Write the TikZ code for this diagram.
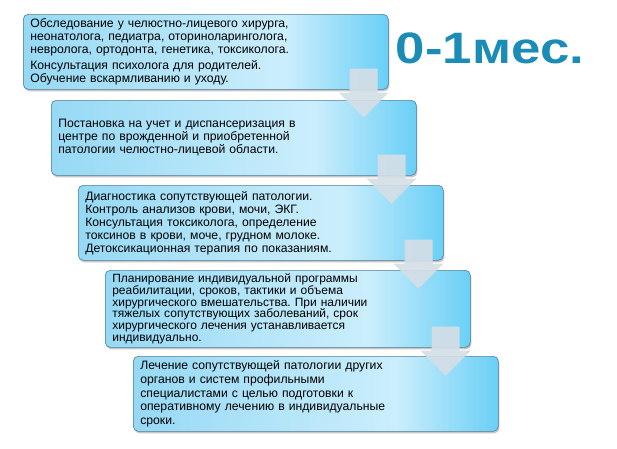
\documentclass[tikz,border=0pt]{standalone}
\usepackage{fontspec}
\setmainfont{Liberation Sans}
\usetikzlibrary{calc,shadows}
\definecolor{boxleft}{RGB}{150,217,245}
\definecolor{boxmid}{RGB}{203,238,252}
\definecolor{boxright}{RGB}{106,207,246}
\definecolor{boxline}{RGB}{80,125,150}
\definecolor{arrowgray}{RGB}{212,222,230}
\definecolor{titleblue}{RGB}{27,140,181}
\pgfdeclarehorizontalshading{stageshade}{100bp}{color(0bp)=(boxleft); color(25bp)=(boxleft);
  color(61bp)=(boxmid); color(75bp)=(boxright); color(100bp)=(boxright)}
\frenchspacing
\newcommand{\stepdown}[1]{%
  \fill[arrowgray,opacity=0.92] ($(#1.south east)+(-39,-21)$) -- ($(#1.south east)+(-11,-21)$)
    -- ($(#1.south east)+(-11,3)$) -- ($(#1.south east)+(0,3)$) -- ($(#1.south east)+(-25,28)$)
    -- ($(#1.south east)+(-50,3)$) -- ($(#1.south east)+(-39,3)$) -- cycle;}
\begin{document}
\begin{tikzpicture}[x=1pt,y=-1pt,
    stagebox/.style={draw=boxline,line width=0.6pt,rounded corners=5pt,
      shading=stageshade,
      drop shadow={opacity=0.45,shadow xshift=1pt,shadow yshift=-2pt},
      anchor=north west,minimum width=365pt,minimum height=75pt,
      text width=351pt,inner xsep=7pt,align=left,
      font=\fontsize{12.2}{13}\selectfont}]
  \useasboundingbox (0,0) rectangle (617,448);
  % stages
  \node[stagebox] (s1) at (23,14) {Обследование у челюстно-лицевого хирурга,\\
    неонатолога, педиатра, оториноларинголога,\\
    невролога, ортодонта, генетика, токсиколога.\\[2.5pt]
    Консультация психолога для родителей.\\
    Обучение вскармливанию и уходу.};
  \node[stagebox] (s2) at (51,100) {Постановка на учет и диспансеризация в\\
    центре по врожденной и приобретенной\\
    патологии челюстно-лицевой области.};
  \node[stagebox] (s3) at (78,185) {Диагностика сопутствующей патологии.\\
    Контроль анализов крови, мочи, ЭКГ.\\
    Консультация токсиколога, определение\\
    токсинов в крови, моче, грудном молоке.\\
    Детоксикационная терапия по показаниям.};
  \node[stagebox,font=\fontsize{12}{11.8}\selectfont] (s4) at (105,270) {Планирование индивидуальной программы\\
    реабилитации, сроков, тактики и объема\\
    хирургического вмешательства. При наличии\\
    тяжелых сопутствующих заболеваний, срок\\
    хирургического лечения устанавливается\\
    индивидуально.};
  \node[stagebox,font=\fontsize{12.2}{13.6}\selectfont] (s5) at (133,356) {Лечение сопутствующей патологии других\\
    органов и систем профильными\\
    специалистами с целью подготовки к\\
    оперативному лечению в индивидуальные\\
    сроки.};
  % arrows
  \stepdown{s1}
  \stepdown{s2}
  \stepdown{s3}
  \stepdown{s4}
  \node[text=titleblue,font=\fontsize{44}{44}\selectfont\bfseries] (age) at (490,48) {\scalebox{1.2}[1]{0-1мес.}};
\end{tikzpicture}
\end{document}
